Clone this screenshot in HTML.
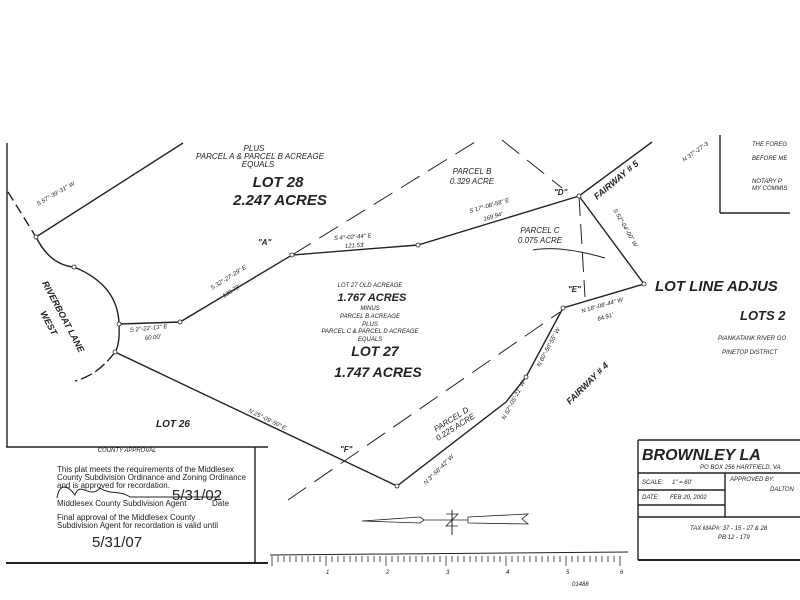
<!DOCTYPE html>
<html><head><meta charset="utf-8"><style>
html,body{margin:0;padding:0;background:#fff}
svg{display:block}
text{font-family:"Liberation Sans",sans-serif;fill:#222;font-style:italic}
.s{font-size:6px}
.m{font-size:8px}
.b{font-weight:bold}
</style></head><body>
<svg width="800" height="600" viewBox="0 0 800 600" xmlns="http://www.w3.org/2000/svg">
<rect width="800" height="600" fill="#fff"/>
<g stroke="#222" fill="none" stroke-width="1.4">
<line x1="7" y1="143" x2="7" y2="447"/>
<line x1="36" y1="237" x2="183" y2="143"/>
<line x1="8" y1="192" x2="36" y2="237" stroke-dasharray="10,5"/>
<path d="M36 237 Q50 265 74 267 Q118 285 119 324 Q120 345 115 352"/>
<path d="M115 352 Q98 375 75 381" stroke-dasharray="12,4"/>
<polyline points="119,324 180,322 292,255 418,245 579,196 652,142"/>
<polyline points="115,352 397,486 506,402 526,377 563,308 644,284 579,196"/>
<line x1="579" y1="196" x2="585" y2="297" stroke-dasharray="20,8" stroke-width="1"/>
<line x1="292" y1="255" x2="475" y2="142" stroke-dasharray="22,10" stroke-width="1"/>
<line x1="502" y1="140" x2="562" y2="188" stroke-dasharray="22,10" stroke-width="1"/>
<line x1="288" y1="500" x2="560" y2="312" stroke-dasharray="22,10" stroke-width="1"/>
<path d="M533 250 Q560 245 605 258" stroke-width="1"/>
<line x1="720" y1="135" x2="720" y2="213"/>
<line x1="720" y1="213" x2="790" y2="213"/>
<line x1="6" y1="447" x2="268" y2="447"/>
<line x1="255" y1="447" x2="255" y2="563"/>
<line x1="6" y1="563" x2="268" y2="563" stroke-width="2"/>
<line x1="638" y1="440" x2="800" y2="440"/>
<line x1="638" y1="440" x2="638" y2="560"/>
<line x1="638" y1="473" x2="800" y2="473"/>
<line x1="638" y1="490" x2="725" y2="490"/>
<line x1="725" y1="473" x2="725" y2="517"/>
<line x1="638" y1="505" x2="725" y2="505"/>
<line x1="638" y1="517" x2="800" y2="517"/>
<line x1="638" y1="560" x2="800" y2="560" stroke-width="2"/>
<line x1="270" y1="555" x2="628" y2="552" stroke-width="1"/>
<path d="M362 521 L420 517 L424 520 L420 523 Z" stroke-width="0.8"/>
<path d="M468 517 L528 514 L522 519 L528 524 L468 523 Z" stroke-width="0.8"/>
<line x1="424" y1="520" x2="468" y2="520" stroke-width="0.8"/>
<line x1="452" y1="510" x2="452" y2="535" stroke-width="1"/>
<path d="M446 514 L458 514 L446 526 L458 526" stroke-width="0.8"/>
</g>
<g stroke="#222" stroke-width="0.8">
<path d="M272 556 V566 M278 556 V562 M284 556 V562 M290 556 V562 M296 556 V562 M302 556 V562 M308 556 V562 M314 556 V562 M320 556 V562 M326 556 V566 M332 556 V562 M338 556 V562 M344 556 V562 M350 556 V562 M356 556 V562 M362 556 V562 M368 556 V562 M374 556 V562 M380 556 V562 M386 556 V566 M392 556 V562 M398 556 V562 M404 556 V562 M410 556 V562 M416 556 V562 M422 556 V562 M428 556 V562 M434 556 V562 M440 556 V562 M446 556 V566 M452 556 V562 M458 556 V562 M464 556 V562 M470 556 V562 M476 556 V562 M482 556 V562 M488 556 V562 M494 556 V562 M500 556 V562 M506 556 V566 M512 556 V562 M518 556 V562 M524 556 V562 M530 556 V562 M536 556 V562 M542 556 V562 M548 556 V562 M554 556 V562 M560 556 V562 M566 556 V566 M572 556 V562 M578 556 V562 M584 556 V562 M590 556 V562 M596 556 V562 M602 556 V562 M608 556 V562 M614 556 V562 M620 556 V566"/>
</g>
<g fill="#fff" stroke="#222" stroke-width="0.8">
<circle cx="36" cy="237" r="2"/><circle cx="74" cy="267" r="2"/><circle cx="119" cy="324" r="2"/>
<circle cx="180" cy="322" r="2"/><circle cx="292" cy="255" r="2"/><circle cx="418" cy="245" r="2"/>
<circle cx="579" cy="196" r="2"/><circle cx="644" cy="284" r="2"/><circle cx="563" cy="308" r="2"/>
<circle cx="526" cy="377" r="2"/><circle cx="397" cy="486" r="2"/><circle cx="115" cy="352" r="2"/>
</g>
<text x="254" y="151" class="m" text-anchor="middle">PLUS</text>
<text x="260" y="159" class="m" text-anchor="middle">PARCEL A &amp; PARCEL B ACREAGE</text>
<text x="258" y="167" class="m" text-anchor="middle">EQUALS</text>
<text x="278" y="187" class="b" font-size="15" text-anchor="middle">LOT 28</text>
<text x="280" y="205" class="b" font-size="15" text-anchor="middle">2.247 ACRES</text>
<text x="472" y="174" class="m" text-anchor="middle">PARCEL B</text>
<text x="472" y="184" class="m" text-anchor="middle">0.329 ACRE</text>
<text x="540" y="233" class="m" text-anchor="middle">PARCEL C</text>
<text x="540" y="243" class="m" text-anchor="middle">0.075 ACRE</text>
<text x="370" y="287" class="s" text-anchor="middle">LOT 27 OLD ACREAGE</text>
<text x="372" y="301" class="b" font-size="11" text-anchor="middle">1.767 ACRES</text>
<text x="370" y="310" class="s" text-anchor="middle">MINUS</text>
<text x="370" y="318" class="s" text-anchor="middle">PARCEL B ACREAGE</text>
<text x="370" y="326" class="s" text-anchor="middle">PLUS</text>
<text x="370" y="333" class="s" text-anchor="middle">PARCEL C &amp; PARCEL D ACREAGE</text>
<text x="370" y="341" class="s" text-anchor="middle">EQUALS</text>
<text x="375" y="356" class="b" font-size="14" text-anchor="middle">LOT 27</text>
<text x="378" y="377" class="b" font-size="14" text-anchor="middle">1.747 ACRES</text>
<text x="173" y="427" class="b" font-size="10" text-anchor="middle">LOT 26</text>
<text x="258" y="245" class="b" font-size="8">"A"</text>
<text x="554" y="195" class="b" font-size="8">"D"</text>
<text x="568" y="292" class="b" font-size="8">"E"</text>
<text x="340" y="452" class="b" font-size="8">"F"</text>
<text x="655" y="291" class="b" font-size="15">LOT LINE ADJUS</text>
<text x="740" y="320" class="b" font-size="13">LOTS 2</text>
<text x="718" y="340" class="s">PIANKATANK RIVER GO</text>
<text x="722" y="354" class="s">PINETOP DISTRICT</text>
<text x="752" y="146" class="s">THE FOREG</text>
<text x="752" y="160" class="s">BEFORE ME</text>
<text x="752" y="183" class="s">NOTARY P</text>
<text x="752" y="190" class="s">MY COMMIS</text>
<text transform="translate(597,200) rotate(-40)" class="b" font-size="9">FAIRWAY # 5</text>
<text transform="translate(570,405) rotate(-45)" class="b" font-size="9">FAIRWAY # 4</text>
<text transform="translate(436,432) rotate(-32)" class="m">PARCEL D</text>
<text transform="translate(438,441) rotate(-32)" class="m">0.225 ACRE</text>
<text transform="translate(38,206) rotate(-30)" class="s">S 57°-39'-31" W</text>
<text transform="translate(42,283) rotate(62)" class="b" font-size="9">RIVERBOAT LANE</text>
<text transform="translate(40,313) rotate(62)" class="b" font-size="9">WEST</text>
<text transform="translate(130,332) rotate(-6)" class="s">S 2°-22'-13" E</text>
<text transform="translate(145,340) rotate(-6)" class="s">60.00'</text>
<text transform="translate(212,290) rotate(-32)" class="s">S 32°-27'-29" E</text>
<text transform="translate(224,298) rotate(-32)" class="s">130.78'</text>
<text transform="translate(334,240) rotate(-4)" class="s">S 4°-02'-44" E</text>
<text transform="translate(345,248) rotate(-4)" class="s">121.53'</text>
<text transform="translate(470,213) rotate(-16)" class="s">S 17°-08'-58" E</text>
<text transform="translate(484,221) rotate(-16)" class="s">169.94'</text>
<text transform="translate(684,162) rotate(-35)" class="s">N 37°-27'-3</text>
<text transform="translate(613,210) rotate(60)" class="s">S 52°-04'-00" W</text>
<text transform="translate(582,313) rotate(-16)" class="s">N 18°-08'-44" W</text>
<text transform="translate(598,321) rotate(-16)" class="s">84.91'</text>
<text transform="translate(540,367) rotate(-62)" class="s">N 60°-50'-55" W</text>
<text transform="translate(505,420) rotate(-62)" class="s">N 52°-05'-21" W</text>
<text transform="translate(426,485) rotate(-45)" class="s">N 3°-58'-42" W</text>
<text transform="translate(248,412) rotate(26)" class="s">N 25°-09'-50" E</text>
<text x="127" y="452" class="s" text-anchor="middle">COUNTY APPROVAL</text>
<g style="font-family:'Liberation Serif',serif;font-style:normal;font-size:8px">
<text x="57" y="472" style="font-style:normal">This plat meets the requirements of the Middlesex</text>
<text x="57" y="480" style="font-style:normal">County Subdivision Ordinance and Zoning Ordinance</text>
<text x="57" y="488" style="font-style:normal">and is approved for recordation.</text>
<text x="57" y="506" style="font-style:normal">Middlesex County Subdivision Agent</text>
<text x="212" y="506" style="font-style:normal">Date</text>
<text x="57" y="520" style="font-style:normal">Final approval of the Middlesex County</text>
<text x="57" y="528" style="font-style:normal">Subdivision Agent for recordation is valid until</text>
</g>
<text x="172" y="500" font-size="15" style="font-style:normal">5/31/02</text>
<text x="92" y="547" font-size="15" style="font-style:normal">5/31/07</text>
<path d="M57 498 C60 480 70 488 75 495 C80 480 90 500 100 488 C110 495 120 490 130 497 L220 497" stroke="#222" fill="none"/>
<text x="642" y="460" class="b" font-size="16">BROWNLEY LA</text>
<text x="700" y="469" class="s">PO BOX 256  HARTFIELD, VA</text>
<text x="642" y="484" class="s">SCALE:</text><text x="672" y="484" class="s">1" = 60'</text>
<text x="730" y="481" class="s">APPROVED BY:</text>
<text x="770" y="491" class="s">DALTON</text>
<text x="642" y="499" class="s">DATE:</text><text x="670" y="499" class="s">FEB 20, 2002</text>
<text x="690" y="530" class="s">TAX MAP#: 37 - 15 - 27 &amp; 28</text>
<text x="718" y="539" class="s">PB 12 - 179</text>
<g class="s" style="font-style:normal">
<text x="326" y="574">1</text><text x="386" y="574">2</text><text x="446" y="574">3</text><text x="506" y="574">4</text><text x="566" y="574">5</text><text x="620" y="574">6</text>
<text x="572" y="586">01488</text>
</g>
</svg>
</body></html>
